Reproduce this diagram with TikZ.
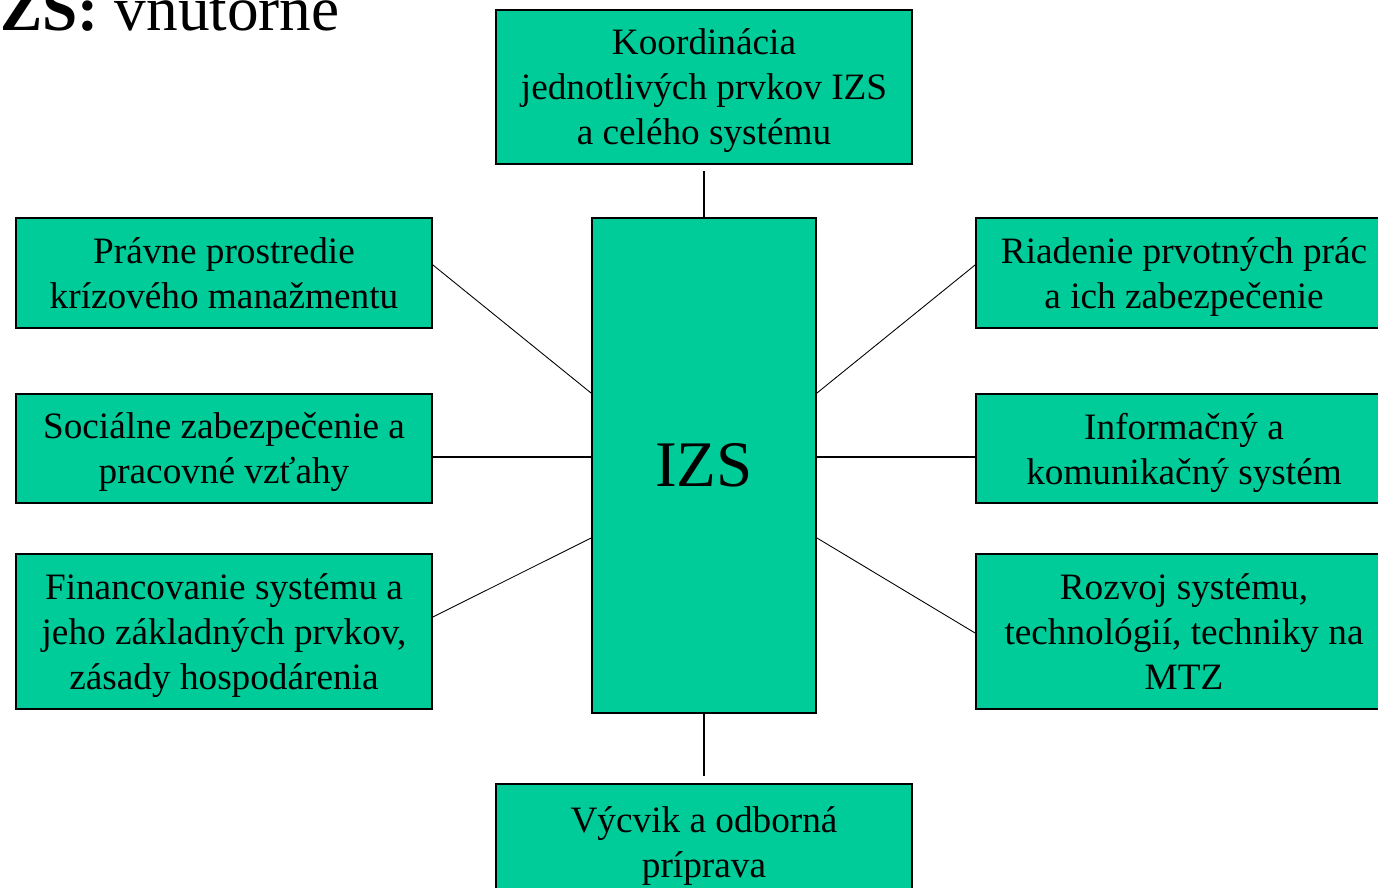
\documentclass[tikz,border=0pt]{standalone}
\usepackage{fontspec}
\setmainfont{Liberation Serif}
\usetikzlibrary{positioning,calc}
\definecolor{izsgreen}{RGB}{0,204,153}
\tikzset{
	box/.style={rectangle,draw=black,line width=1.1pt,fill=izsgreen,inner sep=0pt,
		minimum width=8.32cm,align=center,font=\fontsize{21.2}{25.6}\selectfont,
		text depth=-0.1cm},
	hub/.style={rectangle,draw=black,line width=1.1pt,fill=izsgreen,inner sep=0pt,
		minimum width=4.48cm,minimum height=9.9cm,font=\fontsize{37}{40}\selectfont},
	link/.style={color=black, line width=0.5pt},
	thicklink/.style={color=black, line width=1.1pt}
}
\begin{document}
\begin{tikzpicture}[x=0.02cm,y=-0.02cm]
	\useasboundingbox (0,0) rectangle (1378,888);
	\clip (0,0) rectangle (1378,888);
	%%%title
	\node[anchor=base east,inner sep=0pt,font=\fontsize{36}{40}\selectfont] (title) at (340,31) {\textbf{IZS:}~vnutorne};
	
	%%%center
	\node[hub] (izs) at (704,465.5) {IZS};
	\node[box,minimum height=3.08cm] (top) at (704,87) {Koordinácia\\jednotlivých prvkov IZS\\a celého systému};
	\node[box,minimum height=2.32cm] (bot) at (704,842) {Výcvik a odborná\\príprava};
	
	%%%left
	\node[box,minimum height=2.2cm] (l1) at (224,273) {Právne prostredie\\krízového manažmentu};
	\node[box,minimum height=2.18cm] (l2) at (224,448.5) {Sociálne zabezpečenie a\\pracovné vzťahy};
	\node[box,minimum height=3.1cm] (l3) at (224,631.5) {Financovanie systému a\\jeho základných prvkov,\\zásady hospodárenia};
	
	%%%right
	\node[box,minimum height=2.2cm] (r1) at (1184,273) {Riadenie prvotných prác\\a ich zabezpečenie};
	\node[box,minimum height=2.18cm] (r2) at (1184,448.5) {Informačný a\\komunikačný systém};
	\node[box,minimum height=3.1cm] (r3) at (1184,631.5) {Rozvoj systému,\\technológií, techniky na\\MTZ};
	
	\draw[thicklink,shorten <=3.4pt] (top) -- (izs);
	\draw[thicklink,shorten >=4pt] (izs) -- (bot);
	\draw[link] ([yshift=0.16cm]l1.east) -- ([yshift=1.45cm]izs.west);
	\draw[thicklink] ([yshift=-0.17cm]l2.east) -- ([yshift=0.17cm]izs.west);
	\draw[link] ([yshift=0.29cm]l3.east) -- ([yshift=-1.45cm]izs.west);
	\draw[link] ([yshift=0.16cm]r1.west) -- ([yshift=1.45cm]izs.east);
	\draw[thicklink] ([yshift=-0.17cm]r2.west) -- ([yshift=0.17cm]izs.east);
	\draw[link] ([yshift=-0.03cm]r3.west) -- ([yshift=-1.45cm]izs.east);
\end{tikzpicture}
\end{document}
